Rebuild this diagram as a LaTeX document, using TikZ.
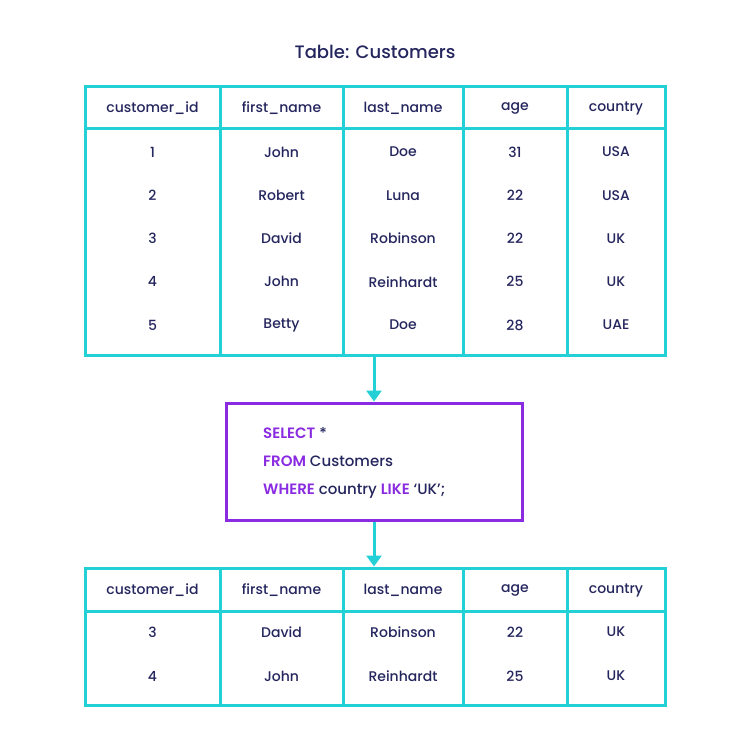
\documentclass[tikz,border=0pt]{standalone}
\usepackage{fontspec}
\setmainfont{Poppins}[UprightFont=* Medium, BoldFont=* SemiBold]
\usetikzlibrary{arrows.meta}
\usetikzlibrary{positioning}

\definecolor{ink}{HTML}{25265E}
\definecolor{tablecyan}{HTML}{22D0D6}
\definecolor{sqlpurple}{HTML}{8A2BE2}

\tikzset{
	tableframe/.style={draw=tablecyan, line width=3pt, minimum width=580pt, inner sep=0pt},
	cell/.style={text=ink, font=\fontsize{14}{16}\selectfont, inner sep=0pt},
	flow/.style={draw=tablecyan, line width=3pt, -{Triangle[width=15pt,length=11pt]}},
	kw/.style={text=sqlpurple, font=\bfseries}
}

\begin{document}
\begin{tikzpicture}[x=1pt,y=-1pt]
	\fill[white] (0,0) rectangle (750,744);
	\useasboundingbox (0,0) rectangle (750,744);

	\node[text=ink, font=\fontsize{18}{20}\selectfont] (title) at (375,52) {Table: Customers};

	\node[tableframe, minimum height=269pt] (customers) at (375,220.5) {};
	\draw[tablecyan, line width=3pt] (85,128) -- (665,128);
	\foreach \x in {220,343,463,567}
		\draw[tablecyan, line width=3pt] (\x,86) -- (\x,355);
	\foreach \h/\x [count=\j] in {customer\_id/152.5, first\_name/281.5, last\_name/403, age/515, country/616}
		\node[cell] (th-\j) at (\x,108) {\h};
	\foreach \a/\b/\c/\d/\e [count=\i] in {1/John/Doe/31/USA, 2/Robert/Luna/22/USA, 3/David/Robinson/22/UK, 4/John/Reinhardt/25/UK, 5/Betty/Doe/28/UAE} {
		\node[cell] (t-\i-1) at (152.5,{152+43.25*(\i-1)}) {\a};
		\node[cell] (t-\i-2) at (281.5,{152+43.25*(\i-1)}) {\b};
		\node[cell] (t-\i-3) at (403,{152+43.25*(\i-1)}) {\c};
		\node[cell] (t-\i-4) at (515,{152+43.25*(\i-1)}) {\d};
		\node[cell] (t-\i-5) at (616,{152+43.25*(\i-1)}) {\e};
	}

	\node[draw=sqlpurple, line width=3pt, minimum width=296pt, minimum height=117pt, inner sep=0pt] (query) at (374,461.5) {};
	\node[cell, anchor=west, align=left, font=\fontsize{15}{28}\selectfont] (sql) at (263,463)
		{\textcolor{sqlpurple}{\bfseries SELECT} *\\
		 \textcolor{sqlpurple}{\bfseries FROM} Customers\\
		 \textcolor{sqlpurple}{\bfseries WHERE} country \textcolor{sqlpurple}{\bfseries LIKE} ‘UK’;};

	\node[tableframe, minimum height=137pt] (result) at (375,636.5) {};
	\draw[tablecyan, line width=3pt] (85,611) -- (665,611);
	\foreach \x in {220,343,463,567}
		\draw[tablecyan, line width=3pt] (\x,568) -- (\x,705);
	\foreach \h/\x [count=\j] in {customer\_id/152.5, first\_name/281.5, last\_name/403, age/515, country/616}
		\node[cell] (rh-\j) at (\x,590) {\h};
	\foreach \a/\b/\c/\d/\e [count=\i] in {3/David/Robinson/22/UK, 4/John/Reinhardt/25/UK} {
		\node[cell] (r-\i-1) at (152.5,{632+44*(\i-1)}) {\a};
		\node[cell] (r-\i-2) at (281.5,{632+44*(\i-1)}) {\b};
		\node[cell] (r-\i-3) at (403,{632+44*(\i-1)}) {\c};
		\node[cell] (r-\i-4) at (515,{632+44*(\i-1)}) {\d};
		\node[cell] (r-\i-5) at (616,{632+44*(\i-1)}) {\e};
	}

	\draw[flow] (customers.south -| query.north) -- (query.north);
	\draw[flow] (query.south) -- (result.north -| query.south);
\end{tikzpicture}
\end{document}
